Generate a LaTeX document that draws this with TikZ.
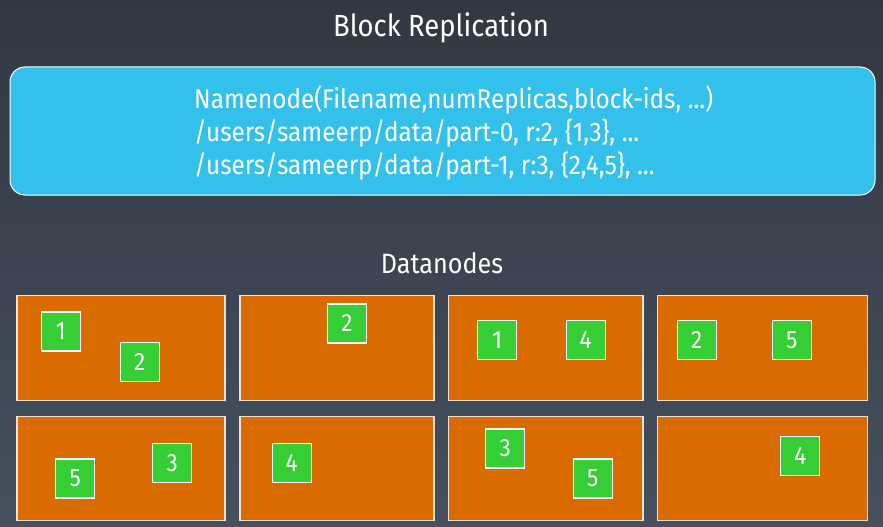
\documentclass[tikz,border=0pt]{standalone}
\usepackage{fontspec}
\setmainfont{Fira Sans}[FakeStretch=0.9]
\definecolor{bgtop}{HTML}{313842}
\definecolor{bgbot}{HTML}{46505E}
\definecolor{nnblue}{HTML}{33C1EB}
\definecolor{dnorange}{HTML}{D96B00}
\definecolor{blkgreen}{HTML}{35CF35}
\definecolor{dnborder}{HTML}{F2E2D2}
\begin{document}
\begin{tikzpicture}[x=1pt,y=-1pt,
  title/.style={text=white,font=\fontsize{30.5}{33}\selectfont,inner sep=0pt},
  dnbox/.style={draw=dnborder,line width=1.2pt,fill=dnorange,inner sep=0pt,minimum height=104.5pt},
  blk/.style={draw=white,line width=1.2pt,fill=blkgreen,minimum width=39pt,minimum height=39pt,inner sep=0pt,text=white,font=\fontsize{25}{25}\selectfont}]
\shade[top color=bgtop,bottom color=bgbot] (0,0) rectangle (883,527);
\useasboundingbox (0,0) rectangle (883,527);
\node[title] (title) at (441,28) {Block Replication};
\node[draw=white,line width=1pt,fill=nnblue,rounded corners=15pt,minimum width=865pt,minimum height=128pt] (nn) at (442.5,131) {};
\node[text=white,anchor=west,align=left,inner sep=0pt,font=\fontsize{27}{33}\selectfont] (nntext) at (194,133)
  {Namenode(Filename,numReplicas,block-ids, ...)\\
   /users/sameerp/data/part-0, r:2, \{1,3\}, ...\\
   /users/sameerp/data/part-1, r:3, \{2,4,5\}, ...};
\node[title,font=\fontsize{28}{30}\selectfont] (dn) at (442,263) {Datanodes};
% datanode boxes
\node[dnbox,minimum width=208pt] (d1) at (121,348) {};
\node[dnbox,minimum width=194pt] (d2) at (337,348) {};
\node[dnbox,minimum width=194.5pt] (d3) at (545.7,348) {};
\node[dnbox,minimum width=210pt] (d4) at (762.7,348) {};
\node[dnbox,minimum width=208pt] (d5) at (121,468.5) {};
\node[dnbox,minimum width=194pt] (d6) at (337,468.5) {};
\node[dnbox,minimum width=194.5pt] (d7) at (545.7,468.5) {};
\node[dnbox,minimum width=210pt] (d8) at (762.7,468.5) {};
% blocks
\node[blk] (b11) at (60.7,331.5) {1};
\node[blk] (b12) at (139.7,362) {2};
\node[blk] (b22) at (347,323.5) {2};
\node[blk] (b31) at (497.3,340) {1};
\node[blk] (b34) at (585.7,340) {4};
\node[blk] (b42) at (696.7,340) {2};
\node[blk] (b45) at (791.7,340) {5};
\node[blk] (b55) at (75.3,478.5) {5};
\node[blk] (b53) at (172.3,463) {3};
\node[blk] (b64) at (291.7,463) {4};
\node[blk] (b73) at (505.3,448.5) {3};
\node[blk] (b75) at (592.7,478.5) {5};
\node[blk] (b84) at (800.3,456) {4};
\end{tikzpicture}
\end{document}
